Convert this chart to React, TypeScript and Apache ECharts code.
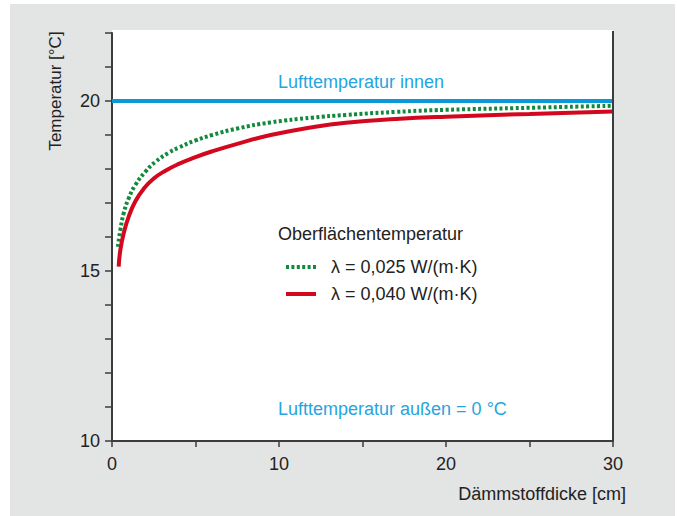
import React, { useEffect, useRef } from "react";
import * as echarts from "echarts";

const FONT = '"Liberation Sans", Arial, sans-serif';

// Dämmstoffdicke [cm]
const thicknessGreen = [0.35, 0.5, 0.7, 1, 1.4, 2, 2.6, 3.4, 4, 5, 6, 7.5, 9.5, 12, 14, 17, 20, 25, 30];
const thicknessRed = [0.4, 0.5, 0.7, 1, 1.4, 1.9, 2.5, 3.2, 4, 5, 6, 7.5, 9.5, 12, 14, 17, 20, 25, 30];
// Oberflächentemperatur [°C]
const tempLambda025 = [15.71, 16.21, 16.7, 17.14, 17.53, 17.92, 18.21, 18.48, 18.63, 18.84, 19.0, 19.19, 19.37, 19.51, 19.59, 19.68, 19.74, 19.8, 19.86];
const tempLambda040 = [15.13, 15.62, 16.11, 16.6, 17.05, 17.42, 17.72, 17.95, 18.15, 18.35, 18.52, 18.74, 19.0, 19.23, 19.36, 19.47, 19.54, 19.62, 19.69];
const innerAirX = [0, 30];
const innerAirT = [20, 20];

const seriesNames = ["λ = 0,025 W/(m·K)", "λ = 0,040 W/(m·K)"];
const xLabels = [0, 10, 20, 30];
const yLabels = [10, 15, 20];

const GREEN = "#118a3c";
const RED = "#d3081f";
const BLUE = "#0a98d8";

export default function App() {
  const ref = useRef<HTMLDivElement>(null);
  useEffect(() => {
    if (!ref.current) return;
    const chart = echarts.init(ref.current, null, { renderer: "svg" });
    const axisColor = "#3c3c3c";
    chart.setOption({
      animation: false,
      textStyle: { fontFamily: FONT },
      grid: { left: 112, right: 64, top: 33, bottom: 75 },
      graphic: [
        { type: "rect", z: -10, shape: { x: 10, y: 4, width: 665, height: 512 }, style: { fill: "#e3e4e4" } },
        { type: "rect", z: -9, shape: { x: 112, y: 30, width: 501, height: 411 }, style: { fill: "#ffffff" } },
        { type: "line", z: 5, shape: { x1: 613, y1: 31, x2: 613, y2: 441 }, style: { stroke: axisColor, lineWidth: 2 } },
        {
          type: "text", z: 5, x: 278, y: 82,
          style: { text: "Lufttemperatur innen", fill: "#25a5df", fontSize: 18, fontFamily: FONT, align: "left", verticalAlign: "middle" },
        },
        {
          type: "text", z: 5, x: 278, y: 409,
          style: { text: "Lufttemperatur außen = 0 °C", fill: "#25a5df", fontSize: 18, fontFamily: FONT, align: "left", verticalAlign: "middle" },
        },
        {
          type: "text", z: 5, x: 278, y: 234,
          style: { text: "Oberflächentemperatur", fill: "#222222", fontSize: 18, fontFamily: FONT, align: "left", verticalAlign: "middle" },
        },
        {
          type: "text", z: 5, x: 626, y: 494,
          style: { text: "Dämmstoffdicke [cm]", fill: "#222222", fontSize: 18, fontFamily: FONT, align: "right", verticalAlign: "middle" },
        },
        {
          type: "text", z: 5, x: 55, y: 91, rotation: Math.PI / 2,
          style: { text: "Temperatur [°C]", fill: "#222222", fontSize: 17, fontFamily: FONT, align: "center", verticalAlign: "middle" },
        },
      ],
      legend: {
        orient: "vertical",
        left: 279,
        top: 253,
        itemWidth: 30,
        itemHeight: 14,
        itemGap: 9,
        itemStyle: { opacity: 0 },
        data: [
          { name: seriesNames[0], lineStyle: { color: GREEN, width: 4, type: [3, 2.4], cap: "butt" } },
          { name: seriesNames[1], lineStyle: { color: RED, width: 4 } },
        ],
        textStyle: { color: "#222222", fontSize: 18, fontFamily: FONT, lineHeight: 18, padding: [0, 0, 0, 10] },
        selectedMode: false,
      },
      xAxis: {
        type: "value",
        min: 0,
        max: 30,
        interval: 5,
        axisLine: { show: true, lineStyle: { color: axisColor, width: 2 } },
        axisTick: { show: true, length: 6, lineStyle: { color: axisColor, width: 1.5 } },
        splitLine: { show: false },
        axisLabel: {
          margin: 14,
          color: "#222222",
          fontSize: 18,
          fontFamily: FONT,
          formatter: (v: number) => (xLabels.includes(v) ? String(v) : ""),
        },
      },
      yAxis: {
        type: "value",
        min: 10,
        max: 22,
        interval: 1,
        axisLine: { show: true, lineStyle: { color: axisColor, width: 2 } },
        axisTick: { show: true, length: 7, lineStyle: { color: axisColor, width: 1.5 } },
        splitLine: { show: false },
        axisLabel: {
          margin: 12,
          color: "#222222",
          fontSize: 18,
          fontFamily: FONT,
          formatter: (v: number) => (yLabels.includes(v) ? String(v) : ""),
        },
      },
      series: [
        {
          name: "Lufttemperatur innen",
          type: "line",
          symbol: "none",
          data: innerAirX.map((x, i) => [x, innerAirT[i]]),
          lineStyle: { color: BLUE, width: 4 },
          itemStyle: { color: BLUE },
          z: 3,
        },
        {
          name: seriesNames[0],
          type: "line",
          symbol: "none",
          smooth: 0.5,
          data: thicknessGreen.map((x, i) => [x, tempLambda025[i]]),
          lineStyle: { color: GREEN, width: 4, type: [3, 2.4], cap: "butt" },
          itemStyle: { color: GREEN },
          z: 4,
        },
        {
          name: seriesNames[1],
          type: "line",
          symbol: "none",
          smooth: 0.5,
          data: thicknessRed.map((x, i) => [x, tempLambda040[i]]),
          lineStyle: { color: RED, width: 4 },
          itemStyle: { color: RED },
          z: 4,
        },
      ],
    });
    return () => chart.dispose();
  }, []);
  return (
    <div
      ref={ref}
      style={{ position: "absolute", left: 0, top: 0, width: 677, height: 516 }}
    />
  );
}
